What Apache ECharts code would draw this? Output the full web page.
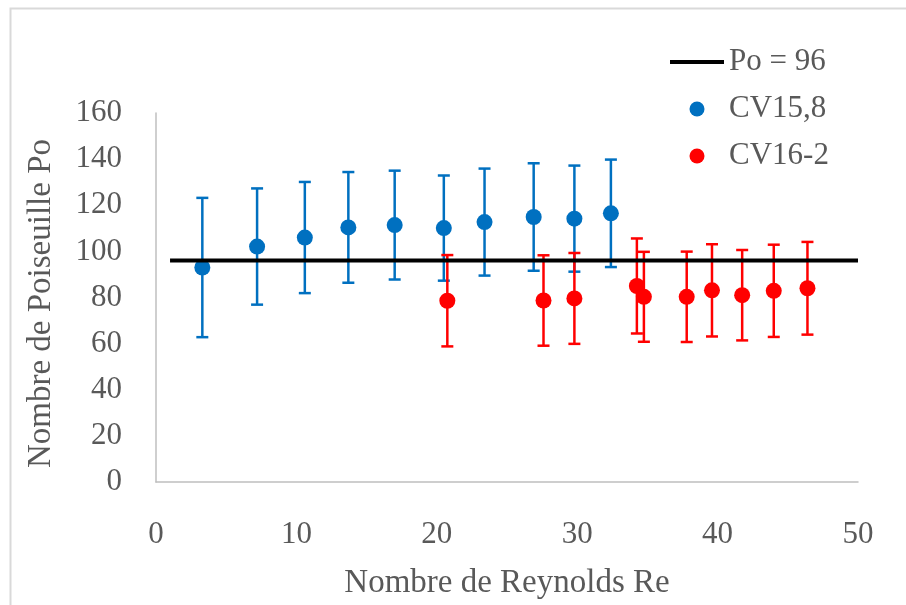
<!DOCTYPE html>
<html>
<head>
<meta charset="utf-8">
<script src="https://cdn.jsdelivr.net/npm/echarts@6/dist/echarts.min.js"></script>
<style>
html,body{margin:0;padding:0;background:#fff;}
#chart{width:906px;height:605px;}
</style>
</head>
<body>
<div id="chart"></div>
<script>
// Reference line Po = 96
var refLineX = [1, 50];
var refLineY = [96, 96];

// Series CV15,8 (blue)
var blueX = [3.3, 7.2, 10.6, 13.7, 17.0, 20.5, 23.4, 26.9, 29.8, 32.4];
var blueY = [93.0, 102.1, 106.0, 110.4, 111.4, 110.1, 112.7, 114.9, 114.2, 116.5];
var blueErr = [30.2, 25.2, 24.1, 24.0, 23.6, 22.8, 23.2, 23.3, 23.0, 23.3];

// Series CV16-2 (red)
var redX = [20.75, 27.6, 29.8, 34.25, 34.75, 37.8, 39.6, 41.75, 44.0, 46.4];
var redY = [78.6, 78.7, 79.6, 85.0, 80.3, 80.3, 83.1, 81.0, 82.9, 84.0];
var redErr = [19.8, 19.6, 19.7, 20.6, 19.5, 19.6, 20.0, 19.6, 20.0, 20.1];

// Axis ticks
var xTicks = [0, 10, 20, 30, 40, 50];
var yTicks = [0, 20, 40, 60, 80, 100, 120, 140, 160];

var FONT = "'Liberation Serif', 'DejaVu Serif', serif";
var TEXT = '#595959';
var BLUE = '#0070C0';
var RED = '#FF0000';

function pts(xs, ys) { return xs.map(function (x, i) { return [x, ys[i]]; }); }
function errData(xs, ys, es) { return xs.map(function (x, i) { return [x, ys[i] - es[i], ys[i] + es[i]]; }); }
function errRender(color) {
  return function (params, api) {
    var x = api.value(0), lo = api.value(1), hi = api.value(2);
    var t = api.coord([x, hi]), b = api.coord([x, lo]);
    var hw = 6;
    var st = { stroke: color, lineWidth: 2.5 };
    return { type: 'group', children: [
      { type: 'line', shape: { x1: t[0], y1: t[1], x2: b[0], y2: b[1] }, style: st },
      { type: 'line', shape: { x1: t[0] - hw, y1: t[1], x2: t[0] + hw, y2: t[1] }, style: st },
      { type: 'line', shape: { x1: b[0] - hw, y1: b[1], x2: b[0] + hw, y2: b[1] }, style: st }
    ]};
  };
}

var chart = echarts.init(document.getElementById('chart'), null, { renderer: 'canvas' });
chart.setOption({
  animation: false,
  backgroundColor: '#fff',
  graphic: [{
    type: 'rect', left: 8, top: 6, z: -10,
    shape: { width: 1000, height: 700 },
    style: { fill: 'none', stroke: '#d9d9d9', lineWidth: 2 }
  }],
  grid: { left: 156, top: 113, right: 48, bottom: 118, containLabel: false },
  legend: {
    left: 670, top: 46, orient: 'vertical', padding: 0,
    itemWidth: 54, itemHeight: 15, itemGap: 15,
    textStyle: { fontFamily: FONT, fontSize: 31, color: TEXT, lineHeight: 32, padding: [0, 0, 0, 0] },
    data: [
      { name: 'Po = 96', icon: 'path://M0,0 L54,0 L54,4 L0,4 Z', itemStyle: { color: '#000' } },
      'CV15,8', 'CV16-2'
    ]
  },
  xAxis: {
    type: 'value', min: 0, max: 50, interval: 10,
    name: 'Nombre de Reynolds Re', nameLocation: 'middle', nameGap: 85,
    nameTextStyle: { fontFamily: FONT, fontSize: 33, color: TEXT },
    axisLine: { show: true, lineStyle: { color: '#bfbfbf', width: 1.5 } },
    axisTick: { show: false },
    splitLine: { show: false },
    axisLabel: { fontFamily: FONT, fontSize: 31, color: TEXT, margin: 37,
      formatter: function (v) { return xTicks.indexOf(v) >= 0 ? String(v) : ''; } }
  },
  yAxis: {
    type: 'value', min: 0, max: 160, interval: 20,
    name: 'Nombre de Poiseuille Po', nameLocation: 'middle', nameGap: 98,
    nameTextStyle: { fontFamily: FONT, fontSize: 33, color: TEXT, padding: [0, 12, 0, 0] },
    axisLine: { show: true, lineStyle: { color: '#bfbfbf', width: 1.5 } },
    axisTick: { show: false },
    splitLine: { show: false },
    axisLabel: { fontFamily: FONT, fontSize: 31, color: TEXT, margin: 34,
      formatter: function (v) { return yTicks.indexOf(v) >= 0 ? String(v) : ''; } }
  },
  series: [
    {
      name: 'Po = 96', type: 'line', data: pts(refLineX, refLineY),
      symbol: 'none', lineStyle: { color: '#000', width: 4 }, itemStyle: { color: '#000' }
    },
    {
      name: 'errBlue', type: 'custom', data: errData(blueX, blueY, blueErr),
      renderItem: errRender(BLUE), encode: { x: 0, y: [1, 2] }
    },
    {
      name: 'CV15,8', type: 'scatter', data: pts(blueX, blueY),
      symbol: 'circle', symbolSize: 16, itemStyle: { color: BLUE, opacity: 1 }
    },
    {
      name: 'errRed', type: 'custom', data: errData(redX, redY, redErr),
      renderItem: errRender(RED), encode: { x: 0, y: [1, 2] }
    },
    {
      name: 'CV16-2', type: 'scatter', data: pts(redX, redY),
      symbol: 'circle', symbolSize: 16, itemStyle: { color: RED, opacity: 1 }
    }
  ]
});
</script>
</body>
</html>
